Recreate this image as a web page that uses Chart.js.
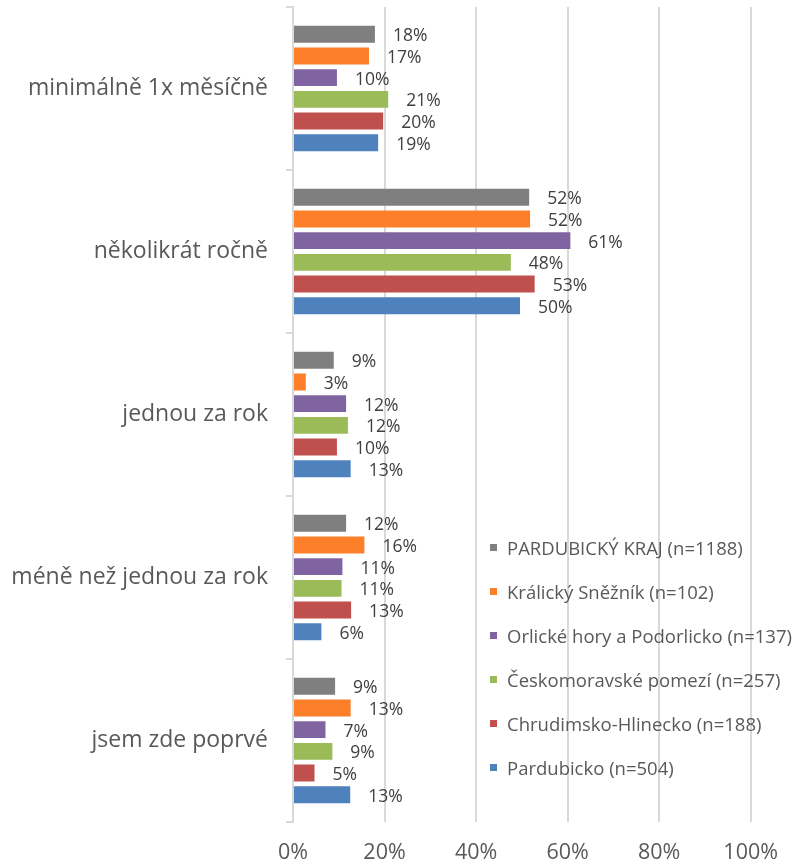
<!DOCTYPE html>
<html>
<head>
<meta charset="utf-8">
<script src="https://cdn.jsdelivr.net/npm/chart.js@4.4.1/dist/chart.umd.min.js"></script>
<style>
  html, body { margin: 0; padding: 0; background: #fff; }
  #wrap { position: relative; width: 796px; height: 867px; }
  #legend {
    position: absolute; left: 490px; top: 525px;
    font-family: "Open Sans", sans-serif; font-size: 18.5px; color: #595959;
  }
  #legend .item { height: 44px; display: flex; align-items: center; white-space: nowrap; }
  #legend .box { width: 7px; height: 7px; margin-right: 10px; }
</style>
</head>
<body>
<div id="wrap">
  <canvas id="chart"></canvas>
  <div id="legend"></div>
</div>
<script>
/* ---- data ---- */
const categories = [
  "minimálně 1x měsíčně",
  "několikrát ročně",
  "jednou za rok",
  "méně než jednou za rok",
  "jsem zde poprvé"
];

const seriesNames = [
  "PARDUBICKÝ KRAJ (n=1188)",
  "Králický Sněžník (n=102)",
  "Orlické hory a Podorlicko (n=137)",
  "Českomoravské pomezí (n=257)",
  "Chrudimsko-Hlinecko (n=188)",
  "Pardubicko (n=504)"
];

const pardubickyKraj   = [17.9, 51.6,  8.9, 11.6,  9.2];
const kralickySneznik  = [16.6, 51.8,  2.8, 15.6, 12.6];
const orlickeHory      = [ 9.6, 60.6, 11.6, 10.8,  7.1];
const ceskomoravske    = [20.8, 47.6, 12.0, 10.6,  8.6];
const chrudimsko       = [19.7, 52.8,  9.6, 12.7,  4.7];
const pardubicko       = [18.6, 49.6, 12.6,  6.2, 12.5];

const xTicks = [0, 20, 40, 60, 80, 100];

const colors = ["#7f7f7f", "#fd7f2a", "#8064a2", "#9bbb59", "#c0504d", "#4f81bd"];

/* ---- chart ---- */
const seriesValues = [pardubickyKraj, kralickySneznik, orlickeHory, ceskomoravske, chrudimsko, pardubicko];
const FONT = '"Open Sans", sans-serif';

const datasets = seriesValues.map((vals, i) => ({
  label: seriesNames[i],
  data: vals,
  backgroundColor: colors[i],
  borderWidth: 0,
  categoryPercentage: 0.8,
  barPercentage: 0.78,
}));

// popisky hodnot za koncem sloupce
const valueLabels = {
  id: "valueLabels",
  afterDatasetsDraw(chart) {
    const ctx = chart.ctx;
    ctx.save();
    ctx.font = "17.5px " + FONT;
    ctx.fillStyle = "#404040";
    ctx.textAlign = "left";
    ctx.textBaseline = "middle";
    chart.data.datasets.forEach((ds, i) => {
      chart.getDatasetMeta(i).data.forEach((bar, j) => {
        ctx.fillText(Math.round(ds.data[j]) + "%", bar.x + 18, bar.y + 2);
      });
    });
    ctx.restore();
  }
};

new Chart(document.getElementById("chart"), {
  type: "bar",
  data: { labels: categories, datasets },
  plugins: [valueLabels],
  options: {
    indexAxis: "y",
    responsive: true,
    maintainAspectRatio: false,
    animation: false,
    layout: { padding: { top: 7, right: 44, left: 0, bottom: 0 } },
    plugins: {
      legend: { display: false },
      tooltip: { enabled: false },
    },
    scales: {
      x: {
        min: 0,
        max: 100,
        afterBuildTicks(scale) {
          scale.ticks = xTicks.map(v => ({ value: v }));
        },
        afterFit(scale) { scale.height = 45; },
        border: { display: false },
        grid: { color: "#d9d9d9", lineWidth: 2, drawTicks: false },
        ticks: {
          padding: 18,
          color: "#595959",
          font: { family: FONT, size: 21.5 },
          callback: v => v + "%",
        },
      },
      y: {
        afterFit(scale) {
          scale.width = 293;
          scale.paddingTop = 0;
          scale.paddingBottom = 0;
        },
        border: { display: true, color: "#d9d9d9", width: 2 },
        grid: { drawOnChartArea: false, drawTicks: true, tickLength: 7, color: "#d9d9d9", lineWidth: 2 },
        ticks: {
          padding: 18,
          color: "#595959",
          font: { family: FONT, size: 23 },
        },
      },
    },
  },
});

/* ---- legenda ---- */
const legend = document.getElementById("legend");
seriesNames.forEach((name, i) => {
  const item = document.createElement("div");
  item.className = "item";
  const box = document.createElement("span");
  box.className = "box";
  box.style.background = colors[i];
  const txt = document.createElement("span");
  txt.textContent = name;
  item.appendChild(box);
  item.appendChild(txt);
  legend.appendChild(item);
});
</script>
</body>
</html>
